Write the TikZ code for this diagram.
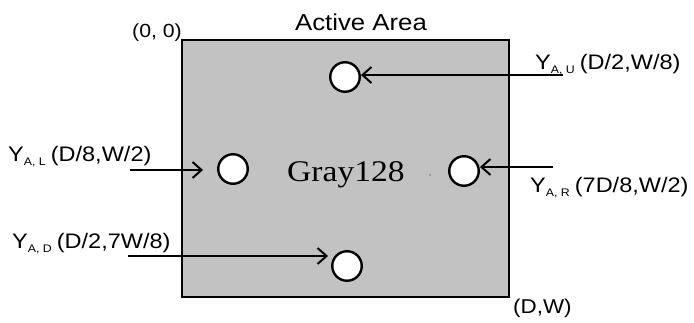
\documentclass[tikz,border=0pt]{standalone}
\usepackage{fontspec}
\setsansfont[FakeStretch=1.12]{Liberation Sans}
\newfontfamily\grayfont[FakeStretch=1.12]{Liberation Serif}
\renewcommand{\familydefault}{\sfdefault}
\usetikzlibrary{arrows.meta}
\definecolor{areagray}{RGB}{194,194,194}
\newcommand{\ylab}[2]{Y\raisebox{-4pt}{\fontsize{11}{11}\selectfont #1}\hspace{5pt}#2}
\begin{document}
\begin{tikzpicture}[x=1pt,y=-1pt,
  area/.style={draw=black,line width=2.6pt,fill=areagray},
  spot/.style={circle,draw=black,line width=2.4pt,fill=white,minimum size=29.5pt,inner sep=0pt},
  lbl/.style={font=\fontsize{21}{21}\selectfont,inner sep=0pt,anchor=west},
  arr/.style={line width=2pt,-{Straight Barb[length=9pt,width=16pt,line width=2pt]}}]
\useasboundingbox (0,0) rectangle (694,323);
\draw[area] (182,40) rectangle (509,297);
\node[spot] (topc) at (345,77) {};
\node[spot] (leftc) at (233,169) {};
\node[spot] (rightc) at (464,171) {};
\node[spot] (botc) at (347,266) {};
\node[font=\grayfont\fontsize{30}{30}\selectfont,inner sep=0pt,anchor=base west] (gray) at (287,182) {Gray128};
\fill[gray!80] (430,175) circle (1.3pt);
\coordinate (ua) at (563,75);
\coordinate (la) at (130,170);
\coordinate (ra) at (553,167);
\coordinate (da) at (128,256);
\draw[arr] (ua) -- (ua -| topc.east);
\draw[arr,shorten >=14pt] (la) -- (la -| leftc.west);
\draw[arr] (ra) -- (ra -| rightc.east);
\draw[arr,shorten >=3pt] (da) -- (da -| botc.west);
\node[lbl] (yal) at (8,157) {\ylab{A, L}{(D/8,W/2)}};
\node[lbl] (yad) at (12,244) {\ylab{A, D}{(D/2,7W/8)}};
\node[lbl] (yau) at (535,65) {\ylab{A, U}{(D/2,W/8)}};
\node[lbl] (yar) at (530,188) {\ylab{A, R}{(7D/8,W/2)}};
\node[font=\fontsize{19}{19}\selectfont,inner sep=0pt] (orig) at (157,33) {(0, 0)};
\node[font=\fontsize{23}{23}\selectfont,inner sep=0pt] (title) at (361,22) {Active Area};
\node[lbl,font=\fontsize{20}{20}\selectfont] (dw) at (513,308) {(D,W)};
\end{tikzpicture}
\end{document}
